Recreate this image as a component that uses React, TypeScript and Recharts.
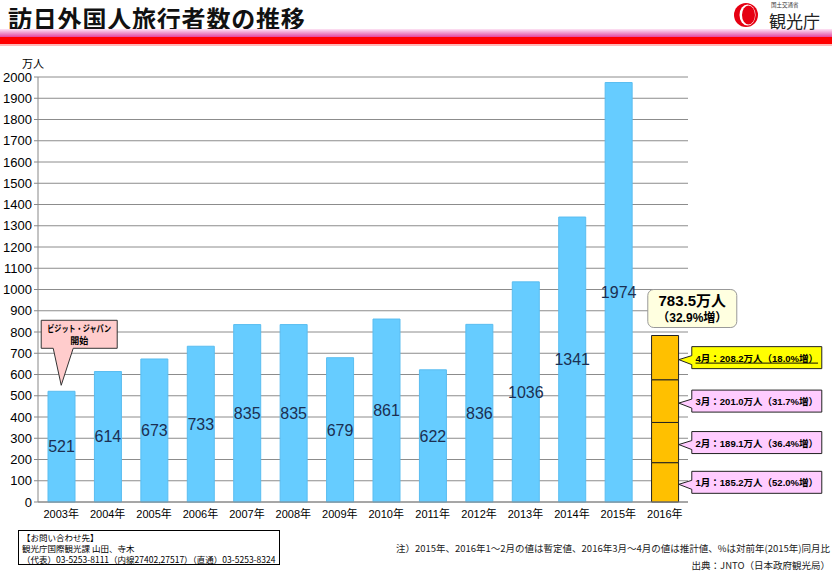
import { BarChart, Bar, XAxis, YAxis, CartesianGrid, LabelList, ReferenceDot } from "recharts";

const years = ["2003年", "2004年", "2005年", "2006年", "2007年", "2008年", "2009年", "2010年", "2011年", "2012年", "2013年", "2014年", "2015年", "2016年"];
const annualVisitors = [521, 614, 673, 733, 835, 835, 679, 861, 622, 836, 1036, 1341, 1974, null];
const monthLabels = ["1月", "2月", "3月", "4月"];
const monthly2016 = [185.2, 189.1, 201.0, 208.2];
const monthlyGrowth = ["52.0", "36.4", "31.7", "18.0"];
const total2016 = 783.5;
const totalGrowth = "32.9";
const yTicks = [0, 100, 200, 300, 400, 500, 600, 700, 800, 900, 1000, 1100, 1200, 1300, 1400, 1500, 1600, 1700, 1800, 1900, 2000];

const monthKeys = ["m1", "m2", "m3", "m4"];

const data = years.map((year, i) => {
  const row: Record<string, any> = { year, annual: annualVisitors[i] };
  if (i === years.length - 1) {
    monthKeys.forEach((k, j) => (row[k] = monthly2016[j]));
  }
  return row;
});

// midpoints of the 2016 stacked segments, for the callouts
const segmentMids = monthly2016.map((v, i) => monthly2016.slice(0, i).reduce((a, b) => a + b, 0) + v / 2);

const FONT = "'Liberation Sans', 'Noto Sans CJK JP', sans-serif";
const JP = "'Noto Sans CJK JP', sans-serif";

function VisitJapanCallout(props: any) {
  const { cx, cy } = props;
  const boxX = cx - 20;
  const boxY = cy - 71;
  const boxW = 76;
  const boxH = 28;
  return (
    <g>
      <path
        d={`M${boxX},${boxY} H${boxX + boxW} V${boxY + boxH} H${cx + 12} L${cx},${cy - 6} L${cx - 8},${boxY + boxH} H${boxX} Z`}
        fill="#FFCCCC"
        stroke="#333"
        strokeWidth={1}
      />
      <text
        x={boxX + 6}
        y={boxY + 12}
        textLength={64}
        lengthAdjust="spacingAndGlyphs"
        fontSize={9}
        fontWeight={700}
        fontFamily={JP}
        fill="#000"
      >
        ビジット・ジャパン
      </text>
      <text x={boxX + boxW / 2} y={boxY + 24} textAnchor="middle" fontSize={9} fontWeight={700} fontFamily={JP} fill="#000">
        開始
      </text>
    </g>
  );
}

function TotalCallout(props: any) {
  const { cx, cy } = props;
  const x = cx - 17;
  const y = cy - 46;
  return (
    <g>
      <rect x={x} y={y} width={89} height={38} rx={6} fill="#FFFFE0" stroke="#999" strokeWidth={1} />
      <text x={x + 44.5} y={y + 16} textAnchor="middle" fontSize={15} fontWeight={700} fontFamily={FONT} fill="#000">
        {total2016}万人
      </text>
      <text x={x + 44.5} y={y + 32} textAnchor="middle" fontSize={12} fontWeight={700} fontFamily={FONT} fill="#000">
        （{totalGrowth}%増）
      </text>
    </g>
  );
}

function makeMonthCallout(i: number) {
  return (props: any) => {
    const { cx, cy } = props;
    const x = cx + 27;
    const y = cy - 11;
    const w = 130;
    const h = 22;
    const highlight = i === monthLabels.length - 1;
    const label = `${monthLabels[i]}：${monthly2016[i].toFixed(1)}万人（${monthlyGrowth[i]}%増）`;
    return (
      <g>
        <path
          d={`M${x},${y} H${x + w} V${y + h} H${x} V${cy + 7} L${cx + 14},${cy + 2} L${x},${cy - 2} Z`}
          fill={highlight ? "#FFFF00" : "#FFCCFF"}
          stroke="#222"
          strokeWidth={1}
        />
        <text
          x={x + w / 2}
          y={y + 15}
          textAnchor="middle"
          fontSize={9.5}
          fontWeight={700}
          fontFamily={FONT}
          fill="#000"
          textDecoration={highlight ? "underline" : undefined}
        >
          {label}
        </text>
      </g>
    );
  };
}

function Logo() {
  return (
    <svg width={102} height={44} style={{ position: "absolute", left: 730, top: 0, overflow: "visible" }}>
      <circle cx={16} cy={15} r={12} fill="#E60012" />
      <ellipse cx={17.5} cy={15} rx={8} ry={10.5} fill="#fff" />
      <ellipse cx={18.5} cy={15} rx={6.5} ry={9.5} fill="#E60012" />
      <text x={41} y={7} fontSize={5.5} fontFamily={JP} fill="#333">国土交通省</text>
      <text x={39} y={28} fontSize={17} fontFamily={JP} fill="#222">観光庁</text>
    </svg>
  );
}

export default function App() {
  return (
    <div style={{ position: "relative", width: 832, height: 576, background: "#fff", overflow: "hidden", fontFamily: FONT }}>
      <style>{`body{margin:0}`}</style>
      <BarChart
        width={832}
        height={576}
        data={data}
        margin={{ top: 77, right: 144, bottom: 54, left: 2 }}
        barSize={27}
        style={{ position: "absolute", left: 0, top: 0 }}
      >
        <CartesianGrid vertical={false} stroke="#8c8c8c" />
        <XAxis
          dataKey="year"
          interval={0}
          height={20}
          tickLine={false}
          axisLine={{ stroke: "#888" }}
          tick={{ fontSize: 11, fill: "#000", fontFamily: FONT }}
        />
        <YAxis
          domain={[0, 2000]}
          ticks={yTicks}
          width={36}
          interval={0}
          tickSize={4}
          tickMargin={2}
          axisLine={{ stroke: "#888" }}
          tickLine={{ stroke: "#888" }}
          tick={{ fontSize: 13, fill: "#000", fontFamily: FONT }}
        />
        <Bar dataKey="annual" stackId="a" fill="#66CCFF" stroke="#5ABDF0" strokeWidth={1} isAnimationActive={false}>
          <LabelList dataKey="annual" position="center" fontSize={16} fill="#1B2F52" fontFamily={FONT} />
        </Bar>
        {monthKeys.map((k) => (
          <Bar key={k} dataKey={k} stackId="a" fill="#FFC000" stroke="#222" strokeWidth={1} isAnimationActive={false} />
        ))}
        <ReferenceDot x={years[0]} y={annualVisitors[0] as number} shape={VisitJapanCallout} />
        <ReferenceDot x={years[years.length - 1]} y={total2016} shape={TotalCallout} />
        {segmentMids.map((m, i) => (
          <ReferenceDot key={i} x={years[years.length - 1]} y={m} shape={makeMonthCallout(i)} />
        ))}
      </BarChart>

      {/* header */}
      <div style={{ position: "absolute", left: 8, top: 4, fontSize: 24, fontWeight: 700, fontFamily: JP, color: "#111", lineHeight: "28px", letterSpacing: 0.8 }}>
        訪日外国人旅行者数の推移
      </div>
      <div style={{ position: "absolute", left: 0, top: 29, width: 832, height: 8, background: "linear-gradient(#FDE4F5, #E3479F)" }} />
      <div style={{ position: "absolute", left: 0, top: 37, width: 832, height: 7, background: "#FF0000" }} />
      <div style={{ position: "absolute", left: 0, top: 44, width: 832, height: 2, background: "#FFB8B8" }} />
      <Logo />

      <div style={{ position: "absolute", left: 22, top: 55, fontSize: 11, fontFamily: JP, color: "#000" }}>万人</div>

      {/* footer */}
      <div
        style={{
          position: "absolute",
          left: 18,
          top: 530,
          width: 262,
          height: 35,
          border: "1px solid #000",
          boxSizing: "border-box",
          padding: "1px 3px",
          fontSize: 8.5,
          lineHeight: "11px",
          fontFamily: JP,
          color: "#000",
          whiteSpace: "nowrap",
        }}
      >
        <div>【お問い合わせ先】</div>
        <div>観光庁国際観光課 山田、寺木</div>
        <div>（代表）03-5253-8111（内線27402,27517）（直通）03-5253-8324</div>
      </div>
      <div style={{ position: "absolute", right: 2, top: 541, fontSize: 9.5, fontFamily: JP, color: "#222", whiteSpace: "nowrap" }}>
        注）2015年、2016年1～2月の値は暫定値、2016年3月～4月の値は推計値、%は対前年(2015年)同月比
      </div>
      <div style={{ position: "absolute", right: 2, top: 558, fontSize: 9.5, fontFamily: JP, color: "#222", whiteSpace: "nowrap" }}>
        出典：JNTO（日本政府観光局）
      </div>
    </div>
  );
}
